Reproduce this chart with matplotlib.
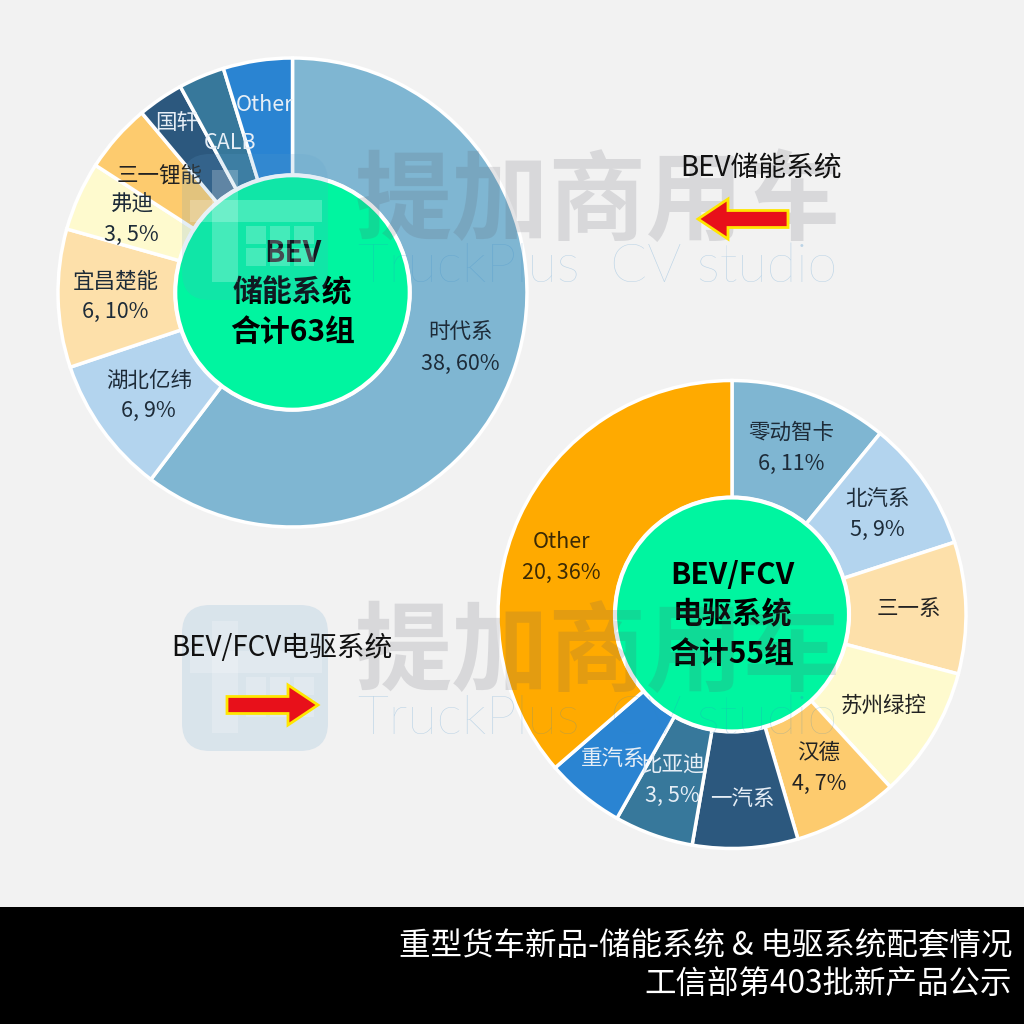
import matplotlib
matplotlib.use('Agg')
import matplotlib.pyplot as plt
import matplotlib.patches as mpatches
import numpy as np

plt.rcParams['font.family'] = ['Noto Sans CJK SC', 'DejaVu Sans']

# ---------------- data ----------------
bev_labels = ['时代系', '湖北亿纬', '宜昌楚能', '弗迪', '三一锂能', '国轩', 'CALB', 'Other']
bev_values = [38, 6, 6, 3, 3, 2, 2, 3]
bev_pct = [60, 9, 10, 5, None, None, None, None]
bev_total = 63

drive_labels = ['零动智卡', '北汽系', '三一系', '苏州绿控', '汉德', '一汽系', '比亚迪', '重汽系', 'Other']
drive_values = [6, 5, 5, 5, 4, 4, 3, 3, 20]
drive_pct = [11, 9, None, None, 7, None, 5, None, 36]
drive_total = 55

title_lines = ['重型货车新品-储能系统 & 电驱系统配套情况', '工信部第403批新产品公示']
arrow_texts = ['BEV储能系统', 'BEV/FCV电驱系统']

# ---------------- styles ----------------
BG = '#F2F2F2'
GREEN = '#00F5A0'
DARK_TXT = '#1d2b38'
LIGHT_TXT = '#e6eef6'

bev_colors = ['#7FB6D2', '#B3D4EE', '#FDE0AA', '#FEFACE', '#FDCB6E', '#2C587E', '#37789B', '#2A84D2']
bev_txt = [DARK_TXT, DARK_TXT, DARK_TXT, DARK_TXT, '#222222', LIGHT_TXT, LIGHT_TXT, LIGHT_TXT]
# label placement tweaks (radius factor, angle shift in degrees)
bev_label_pos = {'国轩': (0.875, 0), 'CALB': (0.69, 0), 'Other': (0.81, 0)}

drive_colors = ['#7FB6D2', '#B3D4EE', '#FDE0AA', '#FEFACE', '#FDCB6E', '#2C587E', '#37789B', '#2A84D2', '#FFAA00']
drive_txt = [DARK_TXT, DARK_TXT, '#222222', '#222222', '#222222', LIGHT_TXT, LIGHT_TXT, LIGHT_TXT, '#3b2a05']
drive_label_pos = {'一汽系': (0.79, 0), '重汽系': (0.80, 0), 'Other': (0.77, 6)}

W = H = 1024
fig = plt.figure(figsize=(10.24, 10.24), dpi=100)
fig.patch.set_facecolor(BG)


def px_axes(cx, cy, R):
    return fig.add_axes([(cx - R) / W, 1 - (cy + R) / H, 2 * R / W, 2 * R / H])


def donut(ax, values, labels, pct, colors, txt_colors, label_pos, center_lines):
    wedges, _ = ax.pie(values, colors=colors, startangle=90, counterclock=False,
                       radius=1.0,
                       wedgeprops=dict(width=0.5, edgecolor='white', linewidth=2.5))
    for w in wedges:
        w.set_clip_on(False)
    ax.set_xlim(-1, 1)
    ax.set_ylim(-1, 1)
    ax.set_aspect('equal')
    ax.axis('off')
    for i, w in enumerate(wedges):
        r, dth = label_pos.get(labels[i], (0.755, 0))
        ang = np.deg2rad((w.theta1 + w.theta2) / 2.0 + dth)
        x, y = r * np.cos(ang), r * np.sin(ang)
        if pct[i] is None:
            ax.text(x, y, labels[i], ha='center', va='center', fontsize=15.5,
                    color=txt_colors[i], zorder=5)
        else:
            ax.text(x, y + 0.066, labels[i], ha='center', va='center', fontsize=15.5,
                    color=txt_colors[i], zorder=5)
            ax.text(x, y - 0.066, f'{values[i]}, {pct[i]}%', ha='center', va='center',
                    fontsize=15.5, color=txt_colors[i], zorder=5)
    ax.add_patch(mpatches.Circle((0, 0), 0.5, fc=GREEN, ec='white', lw=3, zorder=4,
                                 clip_on=False))
    for k, line in enumerate(center_lines):
        ax.text(0, 0.17 - 0.17 * k, line, ha='center', va='center', fontsize=21.5,
                fontweight='bold', color='black', zorder=6)


ax1 = px_axes(292.5, 292.5, 234.5)
donut(ax1, bev_values, bev_labels, bev_pct, bev_colors, bev_txt, bev_label_pos,
      ['BEV', '储能系统', f'合计{bev_total}组'])

ax2 = px_axes(732, 614.5, 234)
donut(ax2, drive_values, drive_labels, drive_pct, drive_colors, drive_txt, drive_label_pos,
      ['BEV/FCV', '电驱系统', f'合计{drive_total}组'])

# ---------------- overlay (pixel coordinates) ----------------
ov = fig.add_axes([0, 0, 1, 1], zorder=10)
ov.set_xlim(0, W)
ov.set_ylim(H, 0)
ov.axis('off')
ov.patch.set_alpha(0)


def watermark(dy):
    # logo
    ov.add_patch(mpatches.FancyBboxPatch((182, 154 + dy), 146, 146,
                                         boxstyle='round,pad=0,rounding_size=28',
                                         fc='#5f9fcc', ec='none', alpha=0.17, zorder=1))
    for (x, y, w, h) in [(212, 170, 26, 112), (190, 200, 132, 22),
                         (246, 226, 20, 18), (270, 226, 20, 18), (294, 226, 20, 18),
                         (246, 248, 20, 18), (270, 248, 20, 18), (294, 248, 20, 18)]:
        ov.add_patch(mpatches.Rectangle((x, y + dy), w, h, fc='white', ec='none',
                                        alpha=0.22, zorder=1.5))
    ov.text(598, 203 + dy, '提加商用车', ha='center', va='center', fontsize=70,
            fontweight='bold', color='#5a5a66', alpha=0.17, zorder=2)
    ov.text(598, 268 + dy, 'TruckPlus  CV studio', ha='center', va='center', fontsize=39,
            family=['Lato', 'DejaVu Sans'], fontweight='light', color='#2f86c8',
            alpha=0.28, zorder=2)


watermark(0)
watermark(451)

# arrows
ov.add_patch(mpatches.FancyArrow(788, 219, -90, 0, width=17, head_width=40, head_length=30,
                                 length_includes_head=True, fc='#E8101A', ec='#FFE600',
                                 lw=2, zorder=5))
ov.add_patch(mpatches.FancyArrow(227, 705, 91, 0, width=17, head_width=40, head_length=30,
                                 length_includes_head=True, fc='#E8101A', ec='#FFE600',
                                 lw=2, zorder=5))
ov.text(680, 168, arrow_texts[0], ha='left', va='center', fontsize=20, color='#111111',
        zorder=6)
ov.text(171, 648, arrow_texts[1], ha='left', va='center', fontsize=20, color='#111111',
        zorder=6)

# footer
ov.add_patch(mpatches.Rectangle((0, 907), W, H - 907, fc='black', ec='none', zorder=7))
ov.text(1012, 946, title_lines[0], ha='right', va='center', fontsize=22.7, color='white',
        zorder=8)
ov.text(1012, 984, title_lines[1], ha='right', va='center', fontsize=22.7, color='white',
        zorder=8)

fig.savefig('out.png', dpi=100, facecolor=BG)
